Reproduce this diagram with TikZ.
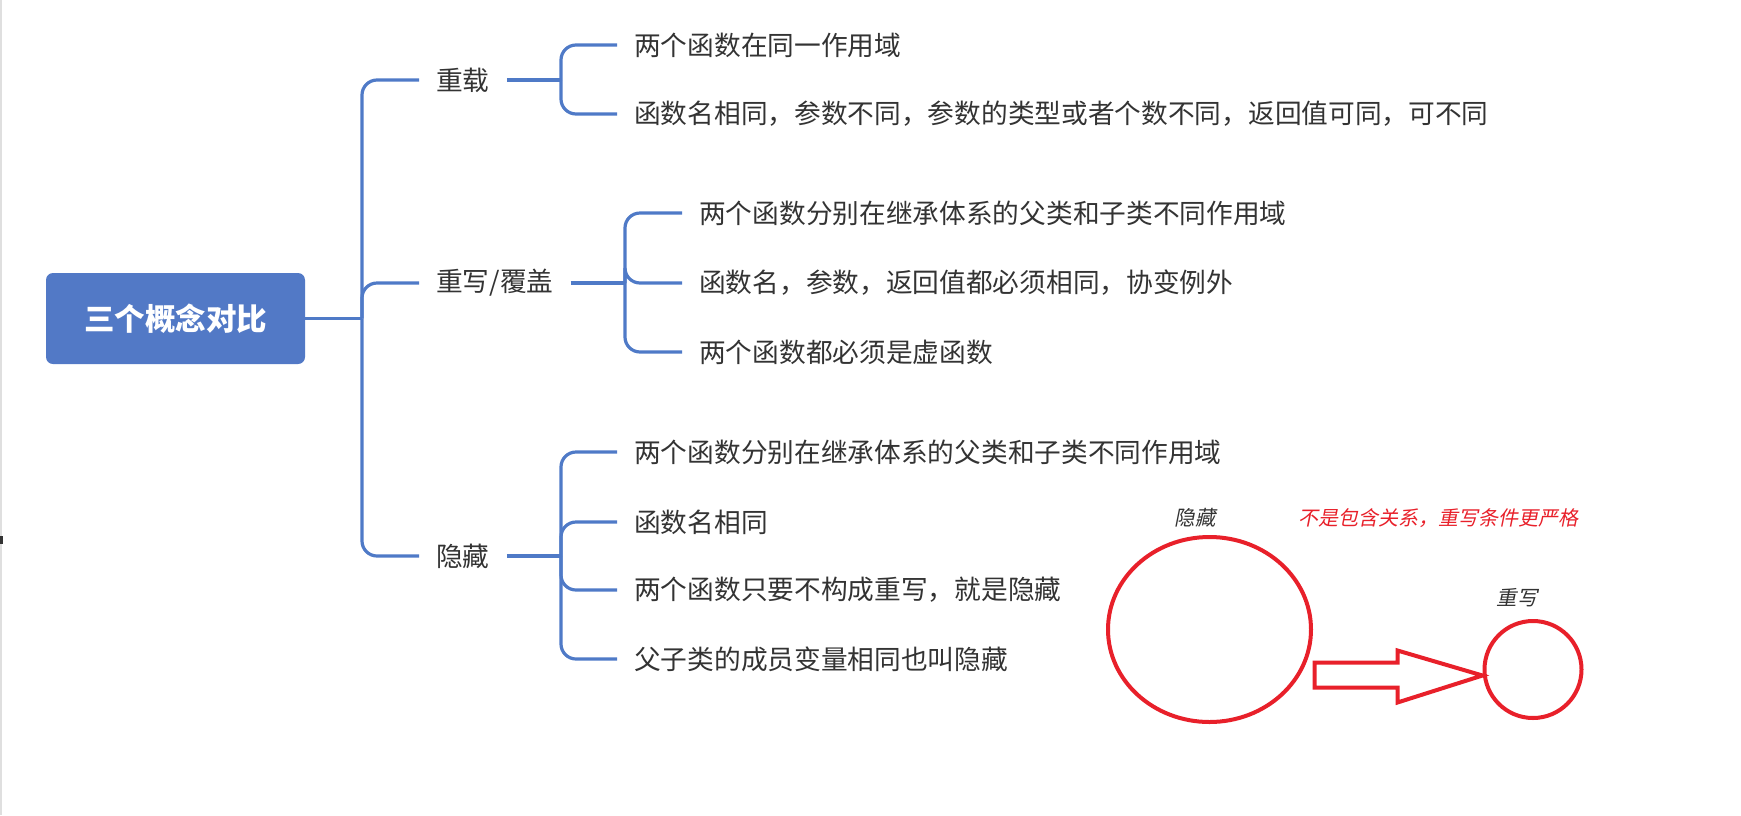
\documentclass[tikz,border=0pt]{standalone}
\usepackage{fontspec}
\setmainfont{Noto Sans CJK SC}
\newfontfamily\slantcjk{Noto Sans CJK SC}[FakeSlant=0.2]
\usetikzlibrary{positioning, shapes.geometric, calc}
\definecolor{mapblue}{RGB}{79,122,199}
\definecolor{boxblue}{RGB}{82,121,198}
\definecolor{mapgray}{RGB}{51,51,51}
\definecolor{notered}{RGB}{232,32,42}
\tikzset{
  rootbox/.style={rectangle, fill=boxblue, rounded corners=7pt, text=white,
                  font=\fontsize{30.5}{36}\selectfont\bfseries,
                  minimum width=259pt, minimum height=91pt},
  topic/.style={anchor=west, inner xsep=17pt, inner ysep=2pt, text=mapgray,
                font=\fontsize{26.7}{32}\selectfont},
  leaf/.style={anchor=west, inner xsep=17pt, inner ysep=2pt, text=mapgray,
               font=\fontsize{26.7}{32}\selectfont},
  branch/.style={draw=mapblue, line width=3.2pt, rounded corners=15pt},
  ring/.style={ellipse, draw=notered, line width=4pt, inner sep=0pt},
  note/.style={font=\fontsize{20}{24}\slantcjk, text=notered},
  tag/.style={font=\fontsize{20.5}{24}\slantcjk, text=mapgray},
}

\begin{document}
\begin{tikzpicture}[x=1pt, y=-1pt]
  \useasboundingbox (0,0) rectangle (1741,815);
  % edge of the screenshot
  \draw[gray!25, line width=1.5pt] (0.75,0) -- (0.75,815);
  \fill[black!80] (0,536) rectangle (2.5,544);

  \node[rootbox] (root) at (175.5,318.5) {三个概念对比};
  \coordinate (trunk) at (362,318.5);
  \draw[branch] (root.east) -- (trunk);

  \node[topic] (overload) at (419,80) {重载};
  \node[topic] (override) at (419,283) {重写/覆盖};
  \node[topic] (hide) at (419,556) {隐藏};
  \foreach \t in {overload, override, hide}
    \draw[branch] (trunk) |- (\t.west);

  % overload
  \coordinate (ovj) at (561,80);
  \draw[branch] (overload.east) -- (ovj);
  \node[leaf] (ov1) at (617,45) {两个函数在同一作用域};
  \node[leaf] (ov2) at (617,114) {函数名相同，参数不同，参数的类型或者个数不同，返回值可同，可不同};
  \foreach \c in {ov1, ov2}
    \draw[branch] (ovj) |- (\c.west);

  % override
  \coordinate (orj) at (625,283);
  \draw[branch] (override.east) -- (orj);
  \node[leaf] (or1) at (682,213) {两个函数分别在继承体系的父类和子类不同作用域};
  \node[leaf] (or2) at (682,283) {函数名，参数，返回值都必须相同，协变例外};
  \node[leaf] (or3) at (682,352) {两个函数都必须是虚函数};
  \foreach \c in {or1, or2, or3}
    \draw[branch] (orj) |- (\c.west);

  % hide
  \coordinate (hdj) at (561,556);
  \draw[branch] (hide.east) -- (hdj);
  \node[leaf] (hd1) at (617,452) {两个函数分别在继承体系的父类和子类不同作用域};
  \node[leaf] (hd2) at (617,522) {函数名相同};
  \node[leaf] (hd3) at (617,590) {两个函数只要不构成重写，就是隐藏};
  \node[leaf] (hd4) at (617,659) {父子类的成员变量相同也叫隐藏};
  \foreach \c in {hd1, hd2, hd3, hd4}
    \draw[branch] (hdj) |- (\c.west);

  % sketch on the right
  \node[ring, minimum width=203pt, minimum height=185pt] (hidering) at (1209.5,629.5) {};
  \node[ring, minimum width=97pt, minimum height=97pt] (overring) at (1533,669.5) {};
  \node[tag] (hidetag) at (1195,518) {隐藏};
  \node[tag] (overtag) at (1517,598) {重写};
  \node[note] (notetext) at (1438,518) {不是包含关系，重写条件更严格};
  \coordinate (tip) at ($(overring.west)+(0,6)$);
  \draw[notered, line width=4pt, shift={(tip)}]
    (-168,-13) -- (-85,-13) -- (-85,-25) -- (0,0) -- (-85,27) -- (-85,12) -- (-168,12) -- cycle;
\end{tikzpicture}
\end{document}
